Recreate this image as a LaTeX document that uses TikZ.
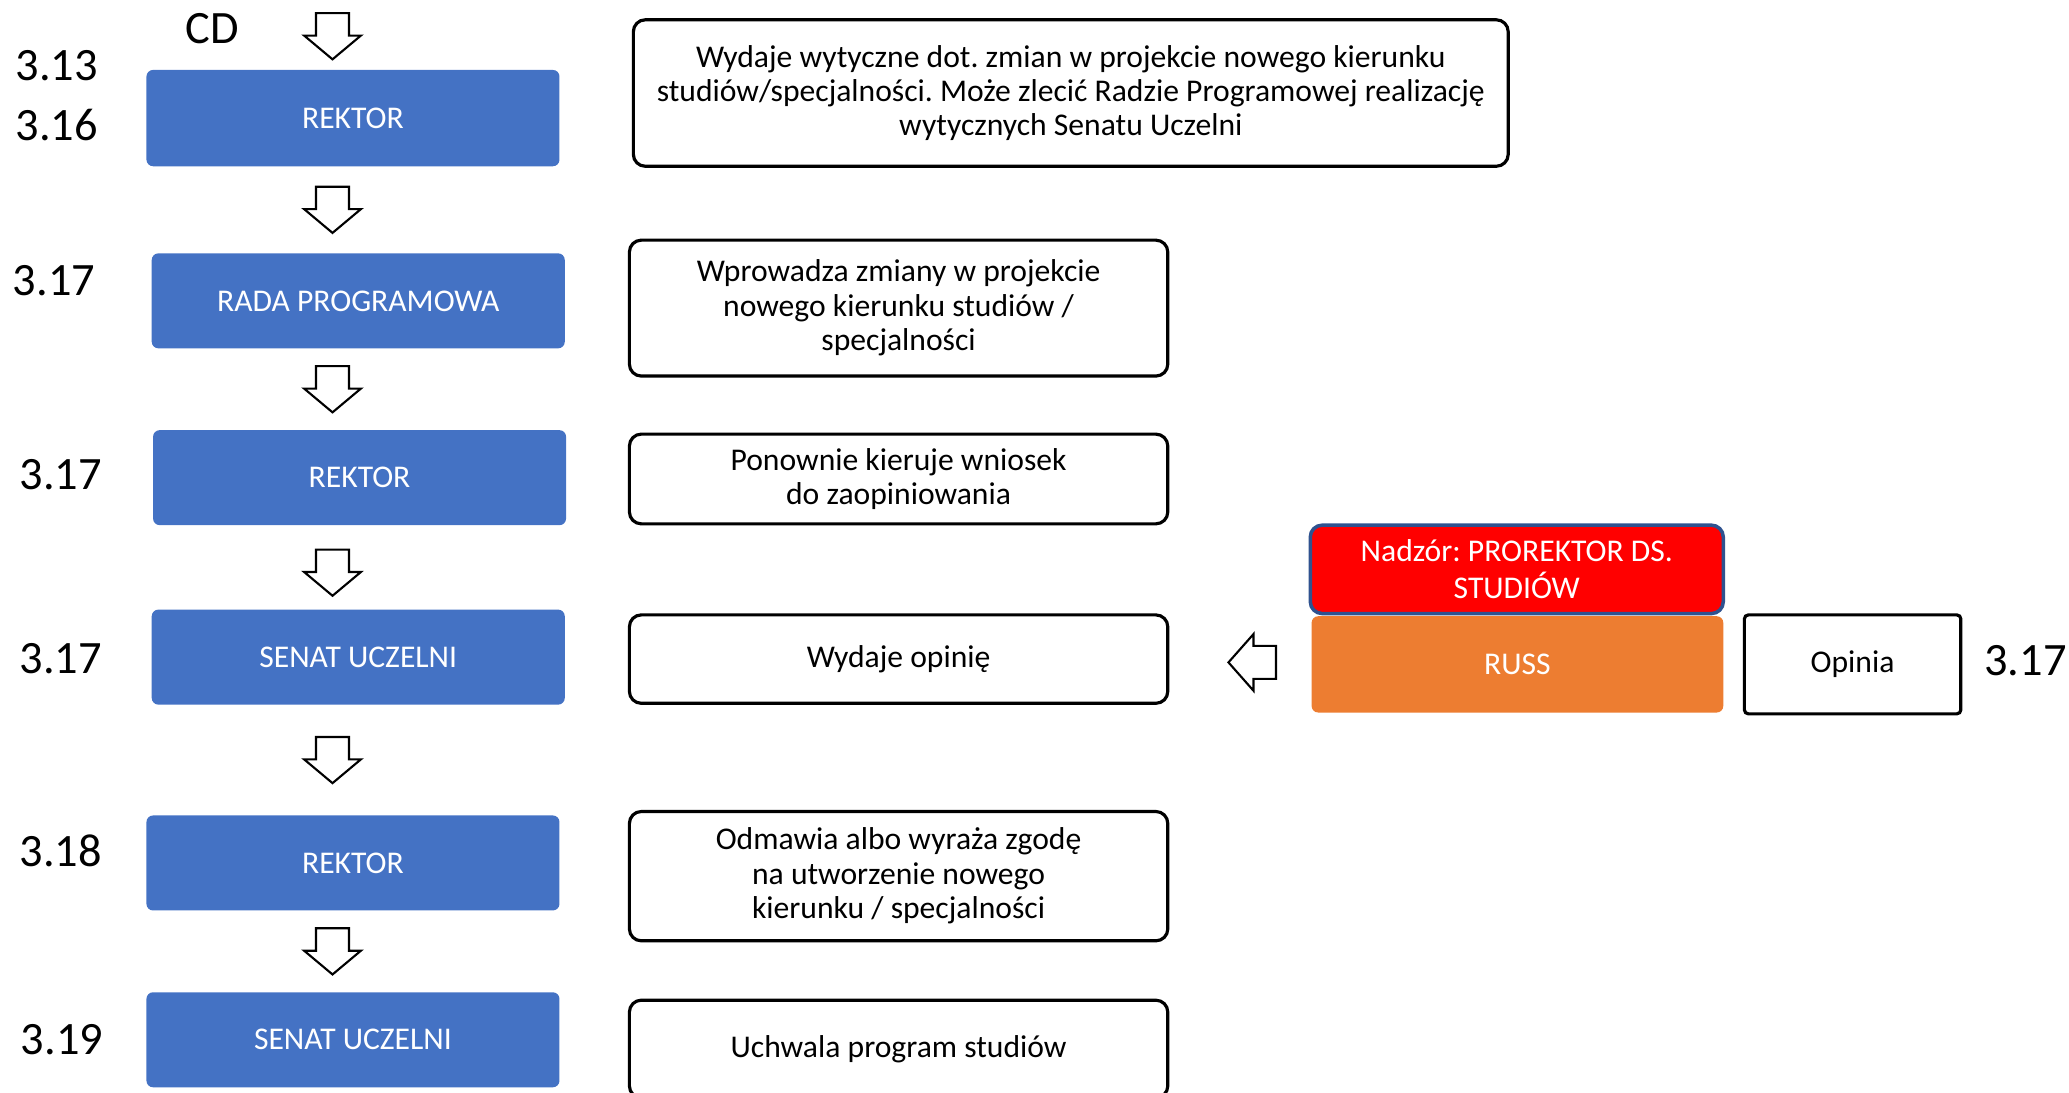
\documentclass[tikz,border=0pt]{standalone}
\usepackage{fontspec}
\setmainfont{Carlito}
\usetikzlibrary{calc}
\newlength\uu
\setlength\uu{0.0131952cm}
\definecolor{cblue}{HTML}{4472C4}
\definecolor{corange}{HTML}{ED7D31}
\definecolor{cred}{HTML}{FF0000}
\definecolor{cborder}{HTML}{2F528F}
\tikzset{
  bluebox/.style={fill=cblue, rounded corners=5\uu, text=white, inner sep=0pt,
    minimum width=313\uu, minimum height=72\uu, font=\fontsize{9}{11}\selectfont},
  descbox/.style={draw=black, line width=0.9pt, rounded corners=9\uu, fill=white,
    align=center, inner sep=0pt, minimum width=408\uu, font=\fontsize{9}{9.8}\selectfont},
  numtext/.style={inner sep=0pt, font=\fontsize{13.2}{15}\selectfont},
  arrowline/.style={draw=black, line width=0.6pt, fill=white, line join=miter},
  darrow/.pic={\path[arrowline] (-12.5,-17.5) -- (12.5,-17.5) -- (12.5,-0.5) -- (21.5,-0.5)
     -- (0,17.5) -- (-21.5,-0.5) -- (-12.5,-0.5) -- cycle;},
  larrow/.pic={\path[arrowline] (-18,0) -- (1,-21.5) -- (1,-12.5) -- (18,-12.5)
     -- (18,12.5) -- (1,12.5) -- (1,21.5) -- cycle;}
}
\begin{document}
\frenchspacing
\begin{tikzpicture}[x=\uu, y=-\uu]
\useasboundingbox (0,0) rectangle (1568,828);

% left column boxes
\node[bluebox, minimum height=73\uu] (r1) at (267.5,89.5) {REKTOR};
\node[bluebox] (rada) at (271.5,228) {RADA PROGRAMOWA};
\node[bluebox] (r2) at (272.5,362) {REKTOR};
\node[bluebox] (s1) at (271.5,498) {SENAT UCZELNI};
\node[bluebox] (r3) at (267.5,654) {REKTOR};
\node[bluebox] (s2) at (267.5,788) {SENAT UCZELNI};

% numbers
\node[numtext] (cd) at (161,22) {CD};
\node[numtext] (n313) at (43,50) {3.13};
\node[numtext] (n316) at (43,95) {3.16};
\node[numtext] (n317a) at (41,213) {3.17};
\node[numtext] (n317b) at (46,360) {3.17};
\node[numtext] (n317c) at (46,499) {3.17};
\node[numtext] (n318) at (46,645) {3.18};
\node[numtext] (n319) at (47,788) {3.19};
\node[numtext] (n317d) at (1535,501) {3.17};

% description boxes
\node[descbox, minimum width=663\uu, minimum height=111\uu] (d1) at (811.5,70.5)
  {Wydaje wytyczne dot. zmian w projekcie nowego kierunku\\
   studiów/specjalności. Może zlecić Radzie Programowej realizację\\
   wytycznych Senatu Uczelni};
\node[descbox, minimum height=103\uu] (d2) at (681,233.5)
  {Wprowadza zmiany w projekcie\\ nowego kierunku studiów /\\ specjalności};
\node[descbox, minimum height=68\uu] (d3) at (681,363)
  {Ponownie kieruje wniosek\\ do zaopiniowania};
\node[descbox, minimum height=67\uu] (d4) at (681,499.5) {Wydaje opinię};
\node[descbox, minimum height=98\uu] (d5) at (681,664)
  {Odmawia albo wyraża zgodę\\ na utworzenie nowego\\ kierunku / specjalności};
\node[descbox, minimum height=74\uu] (d6) at (681,795) {Uchwala program studiów};

% right side
\node[fill=cred, draw=cborder, line width=1pt, rounded corners=9\uu, text=white,
  align=center, inner sep=0pt, minimum width=313\uu, minimum height=67\uu,
  font=\fontsize{9}{10.5}\selectfont] (nadzor) at (1149.5,431.5)
  {Nadzór: PROREKTOR DS.\\ STUDIÓW};
\node[fill=corange, rounded corners=5\uu, text=white, inner sep=0pt,
  minimum width=312\uu, minimum height=73\uu, font=\fontsize{9}{11}\selectfont]
  (russ) at (1150,503.5) {RUSS};
\node[draw=black, line width=0.9pt, rounded corners=3\uu, fill=white, inner sep=0pt,
  minimum width=164\uu, minimum height=75\uu, font=\fontsize{9}{11}\selectfont]
  (opinia) at (1404,503.5) {Opinia};

% block arrows
\coordinate (ax) at (252,0);
\coordinate (m0) at ($(r1.north)+(0,-25)$);
\coordinate (m1) at ($(r1.south)!0.5!(rada.north)$);
\coordinate (m2) at ($(rada.south)!0.5!(r2.north)$);
\coordinate (m3) at ($(r2.south)!0.5!(s1.north)+(0,4)$);
\coordinate (m4) at ($(s1.south)!0.5!(r3.north)$);
\coordinate (m5) at ($(r3.south)!0.5!(s2.north)$);
\pic at (ax |- m0) {darrow};
\pic at (ax |- m1) {darrow};
\pic at (ax |- m2) {darrow};
\pic at (ax |- m3) {darrow};
\pic at (ax |- m4) {darrow};
\pic at (ax |- m5) {darrow};
\coordinate (la) at (949,502);
\pic at (la) {larrow};
\end{tikzpicture}
\end{document}
